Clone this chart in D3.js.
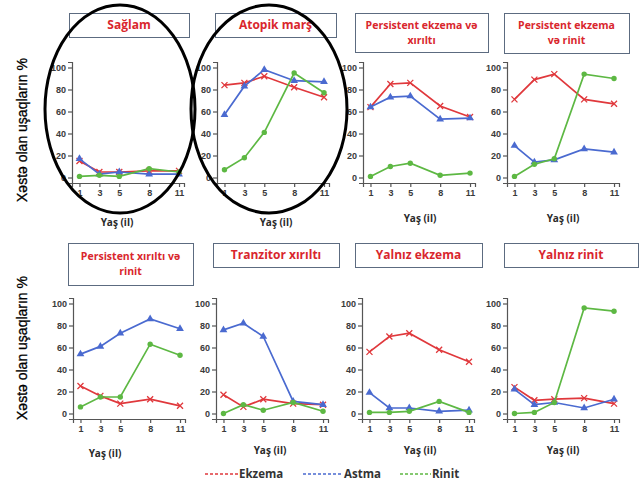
<!DOCTYPE html>
<html>
<head>
<meta charset="utf-8">
<script src="https://cdn.jsdelivr.net/npm/d3@7"></script>
<style>
  body { margin: 0; background: #fff; }
  svg { display: block; }
</style>
</head>
<body>
<svg id="chart" width="642" height="480"></svg>
<script>
// yaş nöqtələri
const ages = [1, 3, 5, 8, 11];
const yTicks = [0, 20, 40, 60, 80, 100];

const panelTitles = [
  ['Sağlam'],
  ['Atopik marş'],
  ['Persistent ekzema və', 'xırıltı'],
  ['Persistent ekzema', 'və rinit'],
  ['Persistent xırıltı və', 'rinit'],
  ['Tranzitor xırıltı'],
  ['Yalnız ekzema'],
  ['Yalnız rinit']
];

const ekzemaValues = [
  [15, 5, 5, 6, 6],
  [84, 86, 92, 82, 73],
  [64, 85, 86, 65, 55],
  [71, 89, 94, 71, 67],
  [25, 16, 9, 13, 7],
  [17, 6, 13, 9, 8],
  [56, 70, 73, 58, 47],
  [24, 12, 13, 14, 9]
];

const astmaValues = [
  [17, 3, 5, 3, 3],
  [57, 83, 98, 88, 87],
  [64, 73, 74, 53, 54],
  [29, 14, 16, 26, 23],
  [54, 61, 73, 86, 77],
  [76, 82, 70, 11, 8],
  [19, 5, 5, 2, 3],
  [22, 8, 10, 5, 13]
];

const rinitValues = [
  [1, 2, 1, 8, 5],
  [7, 18, 41, 95, 77],
  [1, 10, 13, 2, 4],
  [1, 12, 17, 94, 90],
  [6, 15, 15, 63, 53],
  [0, 8, 3, 10, 2],
  [1, 1, 2, 11, 1],
  [0, 1, 10, 96, 93]
];

const seriesNames = ['Ekzema', 'Astma', 'Rinit'];
const seriesColors = ['#e0383c', '#4a6ad0', '#5db843'];

// yerləşmə (piksel)
const panels = [
  { ax: 72,  top: 62,  box: [69, 13, 120, 24],  label: [117, 222] },
  { ax: 217, top: 62,  box: [215, 13, 121, 24], label: [276, 222] },
  { ax: 363, top: 62,  box: [355, 13, 133, 39], label: [420, 218] },
  { ax: 507, top: 62,  box: [504, 13, 125, 40], label: [563, 218] },
  { ax: 73,  top: 298, box: [68, 243, 125, 42], label: [105, 453] },
  { ax: 216, top: 298, box: [213, 243, 126, 24], label: [270, 450] },
  { ax: 362, top: 298, box: [355, 243, 127, 24], label: [420, 450] },
  { ax: 507, top: 298, box: [504, 243, 134, 24], label: [563, 450] }
];

const plotW = 112, plotH = 121;
const svg = d3.select('#chart');

const x = d3.scaleLinear().domain([0.25, 11.5]).range([0, plotW]);
const y = d3.scaleLinear().domain([-5, 105]).range([plotH, 0]);

const line = d3.line().x((d, i) => x(ages[i])).y(d => y(d));

function drawMarker(g, kind, cx, cy, color) {
  if (kind === 0) {
    g.append('path')
      .attr('d', `M${cx - 3},${cy - 3}L${cx + 3},${cy + 3}M${cx - 3},${cy + 3}L${cx + 3},${cy - 3}`)
      .attr('stroke', color).attr('stroke-width', 1.3).attr('fill', 'none');
  } else if (kind === 1) {
    g.append('path')
      .attr('d', d3.symbol(d3.symbolTriangle, 26)())
      .attr('transform', `translate(${cx},${cy})`)
      .attr('fill', color);
  } else {
    g.append('circle').attr('cx', cx).attr('cy', cy).attr('r', 2.7).attr('fill', color);
  }
}

panels.forEach((p, idx) => {
  // başlıq qutusu
  const [bx, by, bw, bh] = p.box;
  svg.append('rect')
    .attr('x', bx + 0.5).attr('y', by + 0.5)
    .attr('width', bw).attr('height', bh)
    .attr('fill', '#fff').attr('stroke', '#5c6b80').attr('stroke-width', 1);

  const lines = panelTitles[idx];
  const lh = 15;
  const firstY = by + bh / 2 - (lines.length - 1) * lh / 2;
  lines.forEach((t, li) => {
    svg.append('text')
      .attr('x', bx + bw / 2).attr('y', firstY + li * lh)
      .attr('dy', '0.35em')
      .attr('text-anchor', 'middle')
      .attr('font-family', 'Open Sans, sans-serif')
      .attr('font-weight', 700)
      .attr('font-size', lines.length > 1 ? 10.5 : 12)
      .attr('fill', '#d9262d')
      .text(t);
  });

  const g = svg.append('g').attr('transform', `translate(${p.ax},${p.top})`);

  const yAxis = g.append('g')
    .call(d3.axisLeft(y).tickValues(yTicks).tickSize(4).tickPadding(2));
  const xAxis = g.append('g')
    .attr('transform', `translate(0,${plotH})`)
    .call(d3.axisBottom(x).tickValues(ages).tickSize(4).tickPadding(3));

  [yAxis, xAxis].forEach(a => {
    a.selectAll('path, line').attr('stroke', '#555').attr('stroke-width', 1.2);
    a.selectAll('text')
      .attr('font-family', 'Liberation Sans, Arial, sans-serif')
      .attr('font-weight', 'bold')
      .attr('font-size', 9)
      .attr('fill', '#3a3a3a');
  });

  const data = [ekzemaValues[idx], astmaValues[idx], rinitValues[idx]];
  data.forEach((vals, si) => {
    g.append('path')
      .datum(vals)
      .attr('d', line)
      .attr('fill', 'none')
      .attr('stroke', seriesColors[si])
      .attr('stroke-width', 1.7);
    vals.forEach((v, i) => drawMarker(g, si, x(ages[i]), y(v), seriesColors[si]));
  });

  svg.append('text')
    .attr('x', p.label[0]).attr('y', p.label[1])
    .attr('dy', '0.35em')
    .attr('text-anchor', 'middle')
    .attr('font-family', 'Open Sans, sans-serif')
    .attr('font-weight', 700)
    .attr('font-size', 10)
    .attr('fill', '#2a2a2a')
    .text('Yaş (il)');
});

// şaquli ox yazıları
[130, 348].forEach(cy => {
  svg.append('text')
    .attr('transform', `translate(22,${cy}) rotate(-90)`)
    .attr('dy', '0.35em')
    .attr('text-anchor', 'middle')
    .attr('font-family', 'Liberation Sans, Arial, sans-serif')
    .attr('font-size', 14)
    .attr('fill', '#000')
    .attr('stroke', '#000').attr('stroke-width', 0.3)
    .text('Xəstə olan uşaqların %');
});

// dairələr
[[120, 109, 75, 104], [269, 109, 78, 104]].forEach(([cx, cy, rx, ry]) => {
  svg.append('ellipse')
    .attr('cx', cx).attr('cy', cy).attr('rx', rx).attr('ry', ry)
    .attr('fill', 'none').attr('stroke', '#000').attr('stroke-width', 3);
});

// legend
const legendX = [205, 303, 400];
const legendLen = [33, 40, 31];
seriesNames.forEach((name, i) => {
  const lx = legendX[i];
  svg.append('line')
    .attr('x1', lx).attr('x2', lx + legendLen[i])
    .attr('y1', 474).attr('y2', 474)
    .attr('stroke', seriesColors[i]).attr('stroke-width', 1.6)
    .attr('stroke-dasharray', '3,2');
  svg.append('text')
    .attr('x', lx + legendLen[i] + 1).attr('y', 474)
    .attr('dy', '0.35em')
    .attr('font-family', 'Open Sans, sans-serif')
    .attr('font-weight', 700)
    .attr('font-size', 11.5)
    .attr('fill', '#333')
    .text(name);
});
</script>
</body>
</html>
